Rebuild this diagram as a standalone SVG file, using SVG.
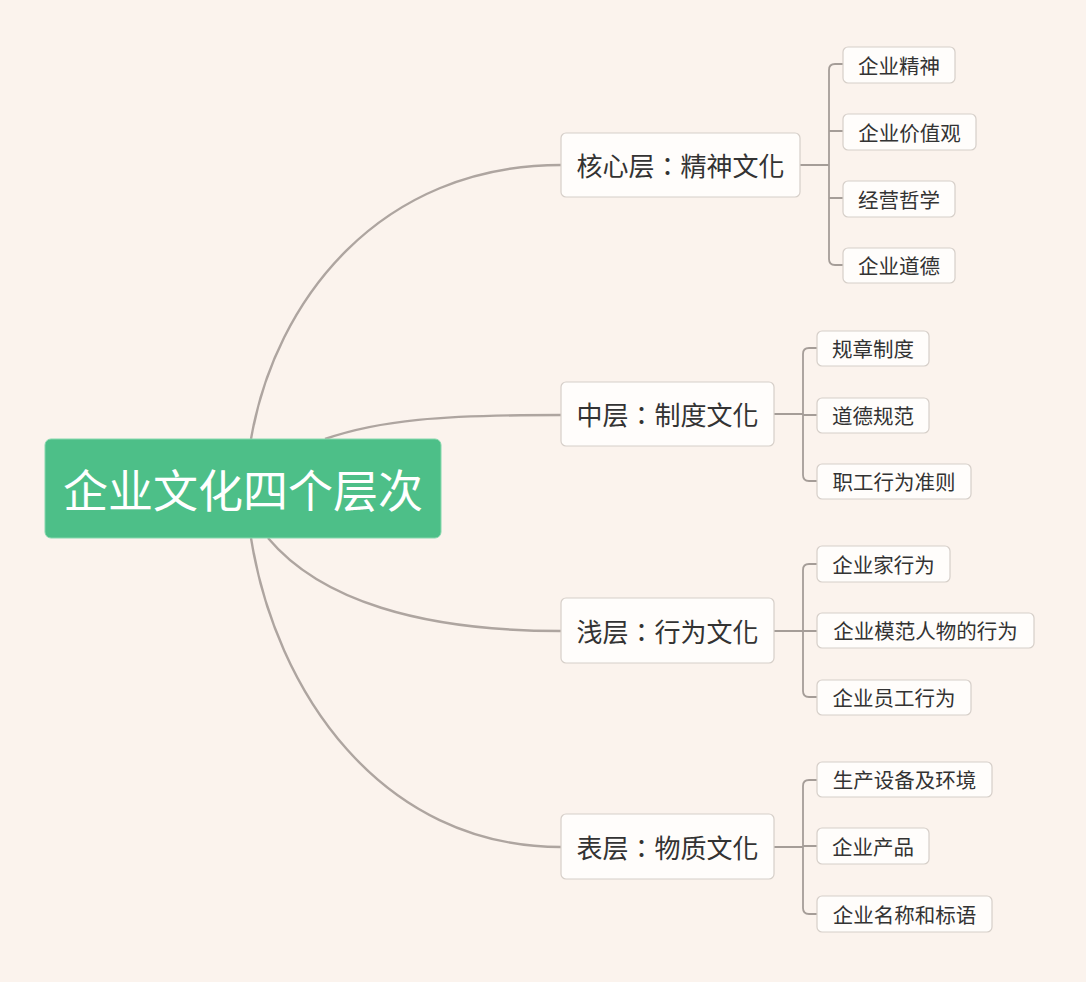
<svg xmlns="http://www.w3.org/2000/svg" width="1086" height="982" viewBox="0 0 1086 982">
<style>
.bg{fill:#fbf3ed}
.root{fill:#4dbf88;stroke:#86d8ad;stroke-width:1}
.rt{font-family:"Noto Sans CJK SC","Noto Sans",sans-serif;font-size:45px;fill:#ffffff;text-anchor:middle}
.n1{fill:#fffdfb;stroke:#d6cfc9;stroke-width:1.2}
.t1{font-family:"Noto Sans CJK TC","Noto Sans CJK SC","Noto Sans",sans-serif;font-size:26px;fill:#333333;text-anchor:middle}
.lf{fill:#fffdfb;stroke:#d6cfc9;stroke-width:1.2}
.tl{font-family:"Noto Sans CJK SC","Noto Sans",sans-serif;font-size:20.5px;fill:#333333;text-anchor:middle}
.c{fill:none;stroke:#aea5a0;stroke-width:2.4}
.s{fill:none;stroke:#a59d98;stroke-width:1.8}
</style>
<rect class="bg" x="0" y="0" width="1086" height="982"/>
<g id="connectors">
<path class="c" d="M251,439 C275,300 380,165 561,165"/>
<path class="c" d="M325,439 C380,420 440,415 561,415"/>
<path class="c" d="M268,538 C320,600 420,631 561,631"/>
<path class="c" d="M251,538 C275,690 380,847 561,847"/>
<path class="s" d="M800,165 H829 M843,64 H835 Q829,64 829,70 V259 Q829,265 835,265 H843 M829,131 H843 M829,198 H843"/>
<path class="s" d="M774,414 H803 M817,348 H809 Q803,348 803,354 V475 Q803,481 809,481 H817 M803,415 H817"/>
<path class="s" d="M774,631 H803 M817,564 H809 Q803,564 803,570 V691 Q803,697 809,697 H817 M803,631 H817"/>
<path class="s" d="M774,847 H803 M817,780 H809 Q803,780 803,786 V908 Q803,914 809,914 H817 M803,846 H817"/>
</g>
<g id="root">
<rect class="root" x="45" y="439" width="396" height="99" rx="6"/>
<text class="rt" x="243" y="508">企业文化四个层次</text>
</g>
<g id="n-core">
<rect class="n1" x="561" y="133" width="239" height="64" rx="5"/>
<text class="t1" x="680.5" y="176">核心层：精神文化</text>
</g>
<g id="n-mid">
<rect class="n1" x="561" y="382" width="213" height="64" rx="5"/>
<text class="t1" x="667.5" y="425">中层：制度文化</text>
</g>
<g id="n-shallow">
<rect class="n1" x="561" y="598" width="213" height="65" rx="5"/>
<text class="t1" x="667.5" y="642">浅层：行为文化</text>
</g>
<g id="n-surface">
<rect class="n1" x="561" y="814" width="213" height="65" rx="5"/>
<text class="t1" x="667.5" y="858">表层：物质文化</text>
</g>
<g id="l1"><rect class="lf" x="843" y="47" width="112" height="36" rx="5"/><text class="tl" x="899" y="73.5">企业精神</text></g>
<g id="l2"><rect class="lf" x="843" y="114" width="133" height="36" rx="5"/><text class="tl" x="909.5" y="140.5">企业价值观</text></g>
<g id="l3"><rect class="lf" x="843" y="181" width="112" height="36" rx="5"/><text class="tl" x="899" y="207.5">经营哲学</text></g>
<g id="l4"><rect class="lf" x="843" y="248" width="112" height="35" rx="5"/><text class="tl" x="899" y="274">企业道德</text></g>
<g id="l5"><rect class="lf" x="817" y="331" width="112" height="35" rx="5"/><text class="tl" x="873" y="357">规章制度</text></g>
<g id="l6"><rect class="lf" x="817" y="398" width="112" height="35" rx="5"/><text class="tl" x="873" y="424">道德规范</text></g>
<g id="l7"><rect class="lf" x="817" y="464" width="154" height="35" rx="5"/><text class="tl" x="894" y="490">职工行为准则</text></g>
<g id="l8"><rect class="lf" x="817" y="546" width="133" height="36" rx="5"/><text class="tl" x="883.5" y="572.5">企业家行为</text></g>
<g id="l9"><rect class="lf" x="817" y="613" width="217" height="35" rx="5"/><text class="tl" x="925.5" y="639">企业模范人物的行为</text></g>
<g id="l10"><rect class="lf" x="817" y="680" width="154" height="35" rx="5"/><text class="tl" x="894" y="706">企业员工行为</text></g>
<g id="l11"><rect class="lf" x="817" y="762" width="175" height="35" rx="5"/><text class="tl" x="904.5" y="788">生产设备及环境</text></g>
<g id="l12"><rect class="lf" x="817" y="828" width="112" height="36" rx="5"/><text class="tl" x="873" y="854.5">企业产品</text></g>
<g id="l13"><rect class="lf" x="817" y="896" width="175" height="36" rx="5"/><text class="tl" x="904.5" y="922.5">企业名称和标语</text></g>
</svg>
